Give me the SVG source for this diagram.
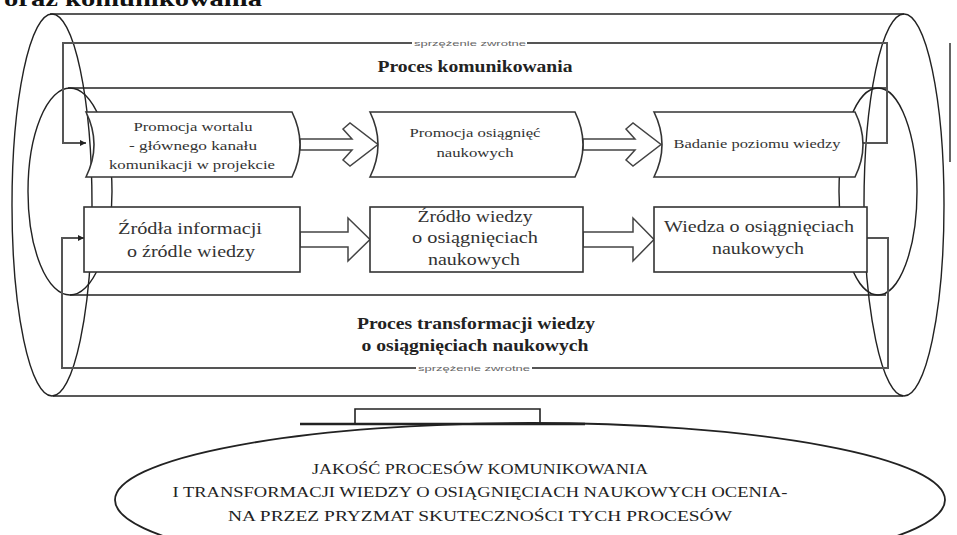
<svg xmlns="http://www.w3.org/2000/svg" width="957" height="535" viewBox="0 0 957 535">
<style>
.ln{fill:none;stroke:#222;stroke-width:1.4}
.fb{fill:none;stroke:#555;stroke-width:2}
.bx{fill:#fff;stroke:#333;stroke-width:1.6}
.ar{fill:#fff;stroke:#444;stroke-width:1.5}
.t{font-family:"Liberation Serif","Times New Roman",serif;fill:#333;text-anchor:middle}
.s{font-size:12.5px}
.m{font-size:17px}
.b{font-size:16px;font-weight:bold;fill:#222}
.lab{font-family:"Liberation Sans",Arial,sans-serif;font-size:7px;fill:#666;text-anchor:middle}
.cap{font-family:"Liberation Serif","Times New Roman",serif;font-size:15px;fill:#222;text-anchor:middle}
</style>
<defs>
<marker id="ah" viewBox="0 0 10 10" refX="10" refY="5" markerWidth="6" markerHeight="6" orient="auto" markerUnits="userSpaceOnUse">
<path d="M0,0 L10,5 L0,10 Z" fill="#222"/>
</marker>
</defs>
<rect width="957" height="535" fill="#fff"/>
<text x="133" y="6" class="t" style="font-size:22px;font-weight:bold;fill:#111" textLength="258" lengthAdjust="spacingAndGlyphs">oraz komunikowania</text>

<g id="cylinder">
<ellipse cx="52" cy="205" rx="40" ry="191" class="ln"/>
<ellipse cx="904" cy="205" rx="40" ry="191" class="ln"/>
<line x1="50" y1="14" x2="904" y2="14" class="ln"/>
<line x1="53" y1="396" x2="903" y2="396" class="ln"/>
<ellipse cx="70" cy="191.5" rx="42" ry="103.5" class="ln"/>
<ellipse cx="878" cy="191.5" rx="39" ry="103.5" class="ln"/>
<line x1="68" y1="88" x2="887" y2="88" class="ln"/>
<line x1="70" y1="295" x2="886" y2="295" class="ln"/>
<line x1="950" y1="43" x2="950" y2="162" class="ln"/>
</g>

<g id="connectors">
<polyline points="412,43 63,43 63,143 86,143" class="fb" marker-end="url(#ah)"/>
<polyline points="527,43 887,43 887,143 862,143" class="fb"/>
<text x="470" y="45.5" class="lab" textLength="112" lengthAdjust="spacingAndGlyphs">sprzężenie zwrotne</text>
<polyline points="416,368 62,368 62,238 84,238" class="fb" marker-end="url(#ah)"/>
<polyline points="532,368 888,368 888,238 867,238" class="fb"/>
<text x="474" y="370.5" class="lab" textLength="112" lengthAdjust="spacingAndGlyphs">sprzężenie zwrotne</text>
<polygon points="300,139 352,139 343,129 350,123 378,144.5 350,166 343,160 352,150 300,150" class="ar"/>
<polygon points="583,139 635,139 626,129 633,123 661,144.5 633,166 626,160 635,150 583,150" class="ar"/>
<polygon points="300,232 348,232 348,218 370,239.5 348,261 348,247 300,247" class="ar"/>
<polygon points="583,232 633,232 633,218 654,239.5 633,261 633,247 583,247" class="ar"/>
</g>

<text x="475" y="72" class="t b" textLength="195" lengthAdjust="spacingAndGlyphs">Proces komunikowania</text>
<text x="476" y="329" class="t b" textLength="238" lengthAdjust="spacingAndGlyphs">Proces transformacji wiedzy</text>
<text x="475" y="351" class="t b" textLength="227" lengthAdjust="spacingAndGlyphs">o osiągnięciach naukowych</text>

<g id="n1">
<path d="M86,112 L292,112 Q308,144.5 292,177 L86,177 Q102,144.5 86,112 Z" class="bx"/>
<text x="193" y="131" class="t s" textLength="119" lengthAdjust="spacingAndGlyphs">Promocja wortalu</text>
<text x="193" y="150" class="t s" textLength="128" lengthAdjust="spacingAndGlyphs">- głównego kanału</text>
<text x="192" y="169" class="t s" textLength="166" lengthAdjust="spacingAndGlyphs">komunikacji w projekcie</text>
</g>
<g id="n2">
<path d="M370,112 L575,112 Q591,144.5 575,177 L370,177 Q386,144.5 370,112 Z" class="bx"/>
<text x="475" y="137" class="t s" textLength="131" lengthAdjust="spacingAndGlyphs">Promocja osiągnięć</text>
<text x="475" y="157" class="t s" textLength="77" lengthAdjust="spacingAndGlyphs">naukowych</text>
</g>
<g id="n3">
<path d="M654,112 L855,112 Q871,144.5 855,177 L654,177 Q670,144.5 654,112 Z" class="bx"/>
<text x="757" y="148" class="t s" textLength="167" lengthAdjust="spacingAndGlyphs">Badanie poziomu wiedzy</text>
</g>
<g id="n4">
<rect x="84" y="207" width="216" height="65" class="bx"/>
<text x="190" y="234" class="t m" textLength="144" lengthAdjust="spacingAndGlyphs">Źródła informacji</text>
<text x="191" y="257" class="t m" textLength="128" lengthAdjust="spacingAndGlyphs">o źródle wiedzy</text>
</g>
<g id="n5">
<rect x="370" y="207" width="213" height="65" class="bx"/>
<text x="475" y="222" class="t m" textLength="115" lengthAdjust="spacingAndGlyphs">Źródło wiedzy</text>
<text x="475" y="243" class="t m" textLength="126" lengthAdjust="spacingAndGlyphs">o osiągnięciach</text>
<text x="474" y="265" class="t m" textLength="92" lengthAdjust="spacingAndGlyphs">naukowych</text>
</g>
<g id="n6">
<rect x="654" y="207" width="213" height="65" class="bx"/>
<text x="759" y="232" class="t m" textLength="190" lengthAdjust="spacingAndGlyphs">Wiedza o osiągnięciach</text>
<text x="758" y="254" class="t m" textLength="92" lengthAdjust="spacingAndGlyphs">naukowych</text>
</g>

<g id="result">
<ellipse cx="530" cy="500" rx="415" ry="77" class="ln" style="stroke-width:1.8"/>
<polyline points="355,424 355,409 540,409 540,424" class="ln" style="stroke-width:1.6"/>
<line x1="300" y1="424" x2="585" y2="424" class="ln" style="stroke-width:2.4"/>
<text x="480" y="474" class="cap" textLength="336" lengthAdjust="spacingAndGlyphs">JAKOŚĆ PROCESÓW KOMUNIKOWANIA</text>
<text x="480" y="497" class="cap" textLength="615" lengthAdjust="spacingAndGlyphs">I TRANSFORMACJI WIEDZY O OSIĄGNIĘCIACH NAUKOWYCH OCENIA-</text>
<text x="480" y="521" class="cap" textLength="504" lengthAdjust="spacingAndGlyphs">NA PRZEZ PRYZMAT SKUTECZNOŚCI TYCH PROCESÓW</text>
</g>
</svg>
